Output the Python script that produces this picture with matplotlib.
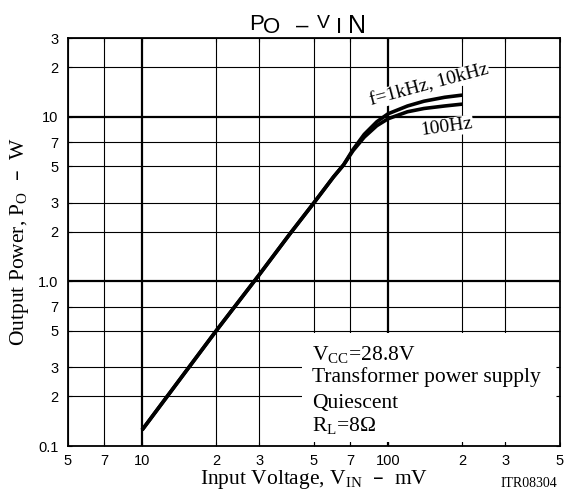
import matplotlib
matplotlib.use("Agg")
from matplotlib import pyplot as plt
from matplotlib.patches import Rectangle

plt.rcParams["font.family"] = ["Liberation Sans", "DejaVu Sans"]

# input voltage (mV) and output power (W)
v_in = [10, 20, 30, 40, 50, 60, 66, 72, 80, 90, 100, 120, 140, 170, 200]
p_1k_10k = [0.125, 0.5, 1.1, 1.95, 3.0, 4.3, 5.1, 6.3, 7.8, 9.3, 10.4, 11.6, 12.4, 13.1, 13.5]
p_100 = [0.125, 0.5, 1.1, 1.95, 3.0, 4.3, 5.1, 6.2, 7.5, 8.8, 9.7, 10.7, 11.2, 11.6, 11.9]

x_ticks = [5, 7, 10, 20, 30, 50, 70, 100, 200, 300, 500]
x_labels = ["5", "7", "10", "2", "3", "5", "7", "100", "2", "3", "5"]
y_ticks = [0.1, 0.2, 0.3, 0.5, 0.7, 1, 2, 3, 5, 7, 10, 20, 30]
y_labels = ["0.1", "2", "3", "5", "7", "1.0", "2", "3", "5", "7", "10", "2", "3"]
decades = [1, 10, 100]

conditions = [r"V$_\mathregular{CC}$=28.8V", "Transformer power supply",
              "Quiescent", r"R$_\mathregular{L}$=8Ω"]

serif = ["Liberation Serif", "DejaVu Serif"]

fig = plt.figure(figsize=(5.65, 4.97), dpi=100)
ax = fig.add_axes([68 / 565, 51 / 497, 492 / 565, 408 / 497])
ax.set_xscale("log")
ax.set_yscale("log")
ax.set_xlim(5, 500)
ax.set_ylim(0.1, 30)

# grid, heavier at the decades
for x in x_ticks:
    ax.axvline(x, color="black", lw=1.6 if x in decades else 0.8, zorder=1)
for y in y_ticks:
    ax.axhline(y, color="black", lw=1.6 if y in decades else 0.8, zorder=1)

ax.set_xticks(x_ticks)
ax.set_xticklabels(x_labels)
ax.set_yticks(y_ticks)
ax.set_yticklabels(y_labels)
ax.minorticks_off()
ax.tick_params(axis="both", direction="in", length=3, width=0.8,
               labelsize=10.5, top=True, right=True)
ax.tick_params(axis="x", pad=6)
ax.tick_params(axis="y", pad=7)
for s in ax.spines.values():
    s.set_linewidth(1.3)

# white panel for the test conditions
ax.add_patch(Rectangle((0.476, 0.01), 0.52, 0.267, transform=ax.transAxes,
                       facecolor="white", edgecolor="none", zorder=1.2))
for text, yy in zip(conditions, [0.211, 0.158, 0.092, 0.035]):
    ax.text(0.496, yy, text, transform=ax.transAxes, va="baseline",
            ha="left", fontsize=15.5, family=serif, zorder=4)

ax.plot(v_in, p_1k_10k, color="black", lw=2.6, zorder=3,
        solid_capstyle="butt")
ax.plot(v_in, p_100, color="black", lw=2.6, zorder=3,
        solid_capstyle="butt")

ax.text(147, 15.5, "f=1kHz, 10kHz", rotation=15, ha="center", va="center",
        fontsize=14, family=serif, zorder=4,
        bbox=dict(facecolor="white", edgecolor="none", pad=0.5))
ax.text(173, 8.6, "100Hz", rotation=8, ha="center", va="center",
        fontsize=14, family=serif, zorder=4,
        bbox=dict(facecolor="white", edgecolor="none", pad=0.5))

ax.set_xlabel(r"Input Voltage, V$_\mathregular{IN}$  –  mV", family=serif,
              fontsize=15.5, labelpad=0)
ax.set_ylabel(r"Output Power, P$_\mathregular{O}$  –  W", family=serif,
              fontsize=15.5, labelpad=5)

# title "PO - VIN", letters placed one by one like the original lettering
for ch, cx, base, size in [("P", 257, 30, 16), ("O", 272, 33.5, 16),
                           ("–", 302, 31.5, 16), ("V", 323, 27.5, 14),
                           ("I", 339, 33.5, 16), ("N", 357, 33.5, 18)]:
    fig.text(cx / 565, 1 - base / 497, ch, ha="center", va="baseline",
             fontsize=size)

fig.text(557 / 565, 1 - 487 / 497, "ITR08304", ha="right", va="baseline",
         fontsize=10, family=serif)

fig.savefig("out.png", dpi=100)
